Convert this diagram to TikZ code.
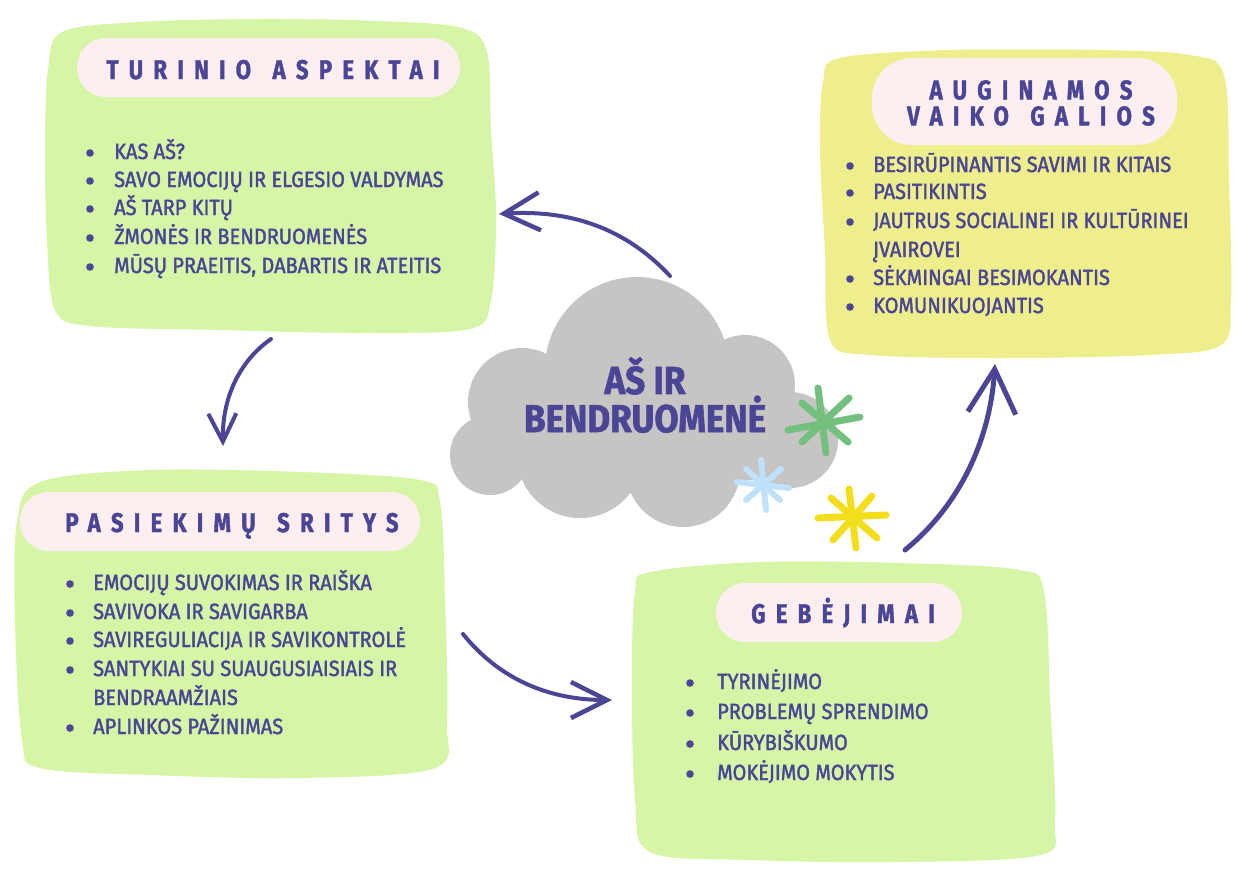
\documentclass[tikz,border=0pt]{standalone}
\usepackage{fontspec}
\setmainfont{Fira Sans}
\newfontfamily\bodyf{Fira Sans}[FakeStretch=0.91,FakeBold=1.7]
\newfontfamily\headf{Fira Sans}[FakeStretch=0.82,LetterSpace=38,FakeBold=1.5]
\newfontfamily\cloudf{Fira Sans}[FakeStretch=0.9,FakeBold=1.5]
\usetikzlibrary{arrows.meta}
\definecolor{ink}{HTML}{4B4596}
\definecolor{lgreen}{HTML}{D6F5A6}
\definecolor{lyellow}{HTML}{EEEE8C}
\definecolor{pillc}{HTML}{FDEEF0}
\definecolor{cloudc}{HTML}{C6C5C4}
\definecolor{astg}{HTML}{72BF7E}
\definecolor{astb}{HTML}{BFE1FB}
\definecolor{asty}{HTML}{F2DE1B}
\tikzset{
  body/.style={text=ink, inner sep=0pt, anchor=base west, font=\bodyf\fontsize{22}{24}\selectfont},
  head/.style={text=ink, inner sep=0pt, anchor=base, font=\headf\bfseries\fontsize{27}{26}\selectfont},
  pillbox/.style={fill=pillc, draw=none},
  conn/.style={draw=ink, line width=4pt, line cap=round},
  astr/.style={line width=#1, line cap=round},
}
\begin{document}
\begin{tikzpicture}[x=1pt,y=-1pt]
\useasboundingbox (0,0) rectangle (1246,868);
\fill[white] (0,0) rectangle (1246,868);

% blobs
\fill[lgreen] plot[smooth cycle, tension=0.55] coordinates {(62,32) (140,22) (260,19) (380,21) (462,28) (487,52) (491,130) (496,215) (491,300) (470,329) (360,333) (220,330) (90,326) (55,310) (47,240) (45,150) (48,70)};
\fill[lyellow] plot[smooth cycle, tension=0.55] coordinates {(840,58) (950,50) (1100,50) (1190,55) (1224,75) (1229,180) (1231,300) (1221,345) (1150,355) (1000,358) (870,355) (830,340) (825,250) (820,150) (823,82)};
\fill[lgreen] plot[smooth cycle, tension=0.55] coordinates {(40,482) (150,470) (300,472) (420,480) (440,502) (445,600) (447,720) (435,768) (300,778) (150,775) (40,768) (22,740) (15,620) (17,522)};
\fill[lgreen] plot[smooth cycle, tension=0.55] coordinates {(650,572) (760,562) (900,563) (1020,570) (1044,592) (1050,700) (1055,820) (1040,855) (900,862) (750,860) (650,852) (635,800) (632,680) (635,592)};

% pills
\fill[pillc, rounded corners=29pt] (77,38) rectangle (460,97);
\fill[pillc, rounded corners=40pt] (872,58) rectangle (1177,145);
\fill[pillc, rounded corners=29pt] (20,492) rectangle (420,551);
\fill[pillc, rounded corners=29pt] (716,583) rectangle (962,642);

% titles
\node[head] (t1) at (273,79) {TURINIO\hspace{6pt} ASPEKTAI};
\node[head, anchor=center, align=center] (t2) at (1031,103) {AUGINAMOS\\VAIKO\hspace{6pt} GALIOS};
\node[head] (t3) at (232,532) {PASIEKIMŲ\hspace{6pt} SRITYS};
\node[head] (t4) at (843,623) {GEBĖJIMAI};

% box 1 items
\foreach \yy/\tt [count=\i] in {159/{KAS AŠ?},187/{SAVO EMOCIJŲ IR ELGESIO VALDYMAS},215/{AŠ TARP KITŲ},244/{ŽMONĖS IR BENDRUOMENĖS},273/{MŪSŲ PRAEITIS, DABARTIS IR ATEITIS}}{
  \fill[ink] (90,\yy-6) circle (3.8);
  \node[body] (a\i) at (114,\yy) {\tt};
}
% box 2 items
\foreach \yy/\tt [count=\i] in {172/{BESIRŪPINANTIS SAVIMI IR KITAIS},199/{PASITIKINTIS},228/{JAUTRUS SOCIALINEI IR KULTŪRINEI},285/{SĖKMINGAI BESIMOKANTIS},313/{KOMUNIKUOJANTIS}}{
  \fill[ink] (850,\yy-6) circle (3.8);
  \node[body] (b\i) at (873,\yy) {\tt};
}
\node[body] (b3b) at (873,257) {ĮVAIROVEI};
% box 3 items
\foreach \yy/\tt [count=\i] in {590/{EMOCIJŲ SUVOKIMAS IR RAIŠKA},619/{SAVIVOKA IR SAVIGARBA},647/{SAVIREGULIACIJA IR SAVIKONTROLĖ},676/{SANTYKIAI SU SUAUGUSIAISIAIS IR},734/{APLINKOS PAŽINIMAS}}{
  \fill[ink] (70,\yy-6) circle (3.8);
  \node[body] (c\i) at (93,\yy) {\tt};
}
\node[body] (c4b) at (93,705) {BENDRAAMŽIAIS};
% box 4 items
\foreach \yy/\tt [count=\i] in {689/{TYRINĖJIMO},719/{PROBLEMŲ SPRENDIMO},750/{KŪRYBIŠKUMO},780/{MOKĖJIMO MOKYTIS}}{
  \fill[ink] (690,\yy-6) circle (3.8);
  \node[body] (d\i) at (717,\yy) {\tt};
}

% cloud
\begin{scope}[cloudc]
\fill (637,369) circle (92);
\fill (522,402) circle (54);
\fill (490,455) circle (40);
\fill (580,455) circle (63);
\fill (683,470) circle (57);
\fill (790,440) circle (48);
\fill (745,385) circle (50);
\fill (520,420) -- (637,370) -- (745,390) -- (790,440) -- (760,480) -- (683,480) -- (580,470) -- (500,460) -- cycle;
\end{scope}
\node[text=ink, inner sep=0pt, align=center, font=\cloudf\bfseries\fontsize{39}{36}\selectfont] (center) at (645,395) {AŠ IR\\BENDRUOMENĖ};

% asterisks
\begin{scope}[astr=7pt, astg]
\draw (818,388) -- (826,453);
\draw (788,430) -- (860,417);
\draw (802,403) -- (848,442);
\draw (802,442) -- (849,398);
\end{scope}
\begin{scope}[astr=6pt, astb]
\draw (761,460) -- (766,510);
\draw (737,482) -- (789,488);
\draw (746,469) -- (780,500);
\draw (746,500) -- (781,469);
\end{scope}
\begin{scope}[astr=7pt, asty]
\draw (849,489) -- (856,548);
\draw (818,518) -- (886,515);
\draw (831,498) -- (877,538);
\draw (833,540) -- (872,496);
\end{scope}

% connectors
\coordinate (s1) at (670,276);
\coordinate (e1) at (499,214);
\coordinate (s2) at (271,339);
\coordinate (e2) at (223,446);
\coordinate (s3) at (463,634);
\coordinate (e3) at (612,700);
\coordinate (s4) at (905,550);
\coordinate (e4) at (995,364);
\draw[conn, -{Straight Barb[length=36pt,width=38pt,line width=4.5pt]}] (s1) .. controls (620,222) and (560,210) .. (e1);
\draw[conn, -{Straight Barb[length=28pt,width=28pt,line width=4pt]}] (s2) .. controls (238,362) and (222,400) .. (e2);
\draw[conn, -{Straight Barb[length=36pt,width=36pt,line width=4.5pt]}] (s3) .. controls (500,680) and (550,700) .. (e3);
\draw[conn, line width=5pt, -{Straight Barb[length=44pt,width=48pt,line width=5pt]}] (s4) .. controls (960,505) and (990,440) .. (e4);
\end{tikzpicture}
\end{document}
